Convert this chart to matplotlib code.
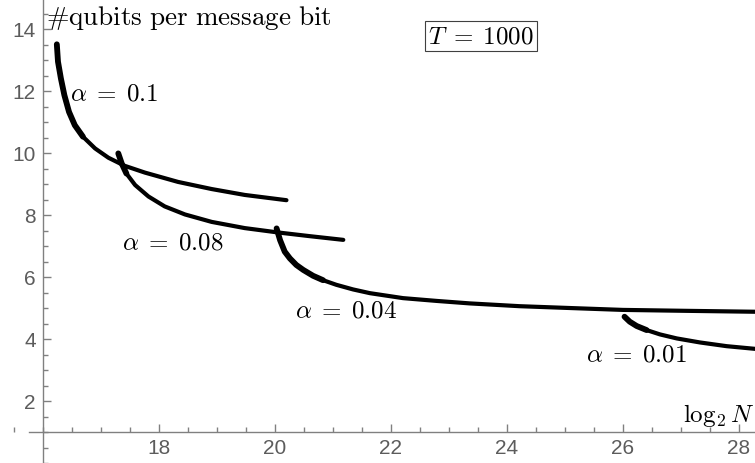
import matplotlib
matplotlib.use("Agg")
import matplotlib.pyplot as plt
from matplotlib.ticker import MultipleLocator

plt.rcParams['mathtext.fontset'] = 'cm'

# data
x_a10 = [16.24, 16.26, 16.31, 16.37, 16.45, 16.55, 16.69, 16.90, 17.13, 17.41, 17.76, 18.33, 18.91, 19.48, 20.20]
y_a10 = [13.51, 12.95, 12.41, 11.87, 11.33, 10.90, 10.53, 10.15, 9.85, 9.59, 9.37, 9.07, 8.84, 8.65, 8.48]

x_a08 = [17.30, 17.36, 17.44, 17.59, 17.82, 18.10, 18.45, 18.91, 19.48, 20.05, 20.60, 21.18]
y_a08 = [9.99, 9.66, 9.34, 8.97, 8.60, 8.28, 8.02, 7.78, 7.58, 7.44, 7.32, 7.20]

x_a04 = [20.03, 20.09, 20.17, 20.26, 20.37, 20.49, 20.66, 20.83, 21.06, 21.35, 21.64, 22.21, 22.79, 23.36, 24.22, 25.10, 26.00, 27.10, 28.30]
y_a04 = [7.57, 7.19, 6.82, 6.60, 6.39, 6.23, 6.04, 5.90, 5.75, 5.60, 5.48, 5.32, 5.23, 5.15, 5.06, 5.00, 4.94, 4.91, 4.88]

x_a01 = [26.03, 26.12, 26.24, 26.41, 26.64, 26.93, 27.33, 27.79, 28.30]
y_a01 = [4.72, 4.56, 4.42, 4.29, 4.15, 4.02, 3.89, 3.77, 3.68]

labels = [r'$\alpha\;=\;0.1$', r'$\alpha\;=\;0.08$', r'$\alpha\;=\;0.04$', r'$\alpha\;=\;0.01$']
label_pos = [(16.46, 11.71), (17.36, 6.90), (20.34, 4.71), (25.37, 3.27)]

xticks = [18, 20, 22, 24, 26, 28]
yticks = [2, 4, 6, 8, 10, 12, 14]

fig = plt.figure(figsize=(7.55, 4.63), dpi=100)
ax = fig.add_axes([0, 0, 1, 1])
ax.set_xlim(15.26, 28.28)
ax.set_ylim(0.0, 14.94)

grey = (0.5, 0.5, 0.5)
for s in ['top', 'right']:
    ax.spines[s].set_visible(False)
ax.spines['left'].set_position(('data', 16))
ax.spines['bottom'].set_position(('data', 1))
ax.spines['left'].set_bounds(0.0, 14.94)
ax.spines['bottom'].set_bounds(15.76, 28.28)
for s in ['left', 'bottom']:
    ax.spines[s].set_color(grey)
    ax.spines[s].set_linewidth(1.0)

ax.set_xticks(xticks)
ax.set_yticks(yticks)
ax.xaxis.set_minor_locator(MultipleLocator(0.5))
ax.yaxis.set_minor_locator(MultipleLocator(0.5))
ax.tick_params(which='both', direction='in', color=grey, width=1.0)
ax.tick_params(which='major', length=6, pad=5, labelsize=15, labelcolor=(0.36, 0.36, 0.36))
ax.tick_params(which='minor', length=3.5)
for lab in ax.get_xticklabels() + ax.get_yticklabels():
    lab.set_fontfamily('Liberation Sans')

curves = [(x_a10, y_a10, 7), (x_a08, y_a08, 3), (x_a04, y_a04, 8), (x_a01, y_a01, 4)]
for xs, ys, k in curves:
    ax.plot(xs, ys, color='black', lw=3.0, solid_capstyle='round', solid_joinstyle='round')
    ax.plot(xs[:k], ys[:k], color='black', lw=4.2, solid_capstyle='round', solid_joinstyle='round')

for lab, (lx, ly) in zip(labels, label_pos):
    ax.text(lx, ly, lab, fontsize=18, ha='left', va='baseline')

ax.text(16.05, 14.13, r'$\#\mathrm{qubits\ per\ message\ bit}$', fontsize=19.5, ha='left', va='baseline')
ax.text(27.03, 1.32, r'$\log_2 N$', fontsize=18, ha='left', va='baseline')
ax.text(23.56, 13.55, r'$T\;=\;1000$', fontsize=18, ha='center', va='baseline',
        bbox=dict(boxstyle='square,pad=0.12', fc='white', ec=(0.25, 0.25, 0.25), lw=0.8))

fig.savefig('out.png', dpi=100)
